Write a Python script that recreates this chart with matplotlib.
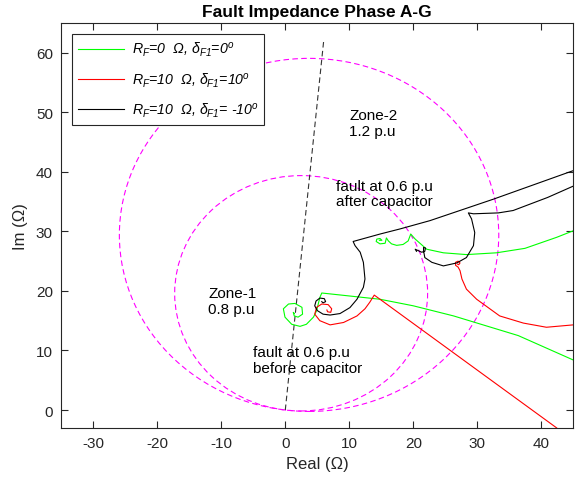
import numpy as np
import matplotlib
matplotlib.use('Agg')
import matplotlib.pyplot as plt
from matplotlib.patches import Circle
from matplotlib.lines import Line2D

plt.rcParams['font.family'] = ['Liberation Sans', 'DejaVu Sans']
plt.rcParams['mathtext.fontset'] = 'custom'
plt.rcParams['mathtext.it'] = 'Liberation Sans:italic'
plt.rcParams['mathtext.rm'] = 'Liberation Sans:italic'
plt.rcParams['mathtext.sf'] = 'Liberation Sans'
plt.rcParams['axes.unicode_minus'] = False

# ---------------- data ----------------
# relay zones (per-unit reach of line impedance)
zone_reach = [0.8, 1.2]
zone_names = ['Zone-1\n0.8 p.u', 'Zone-2\n1.2 p.u']
line_z_mag = 49.4          # ohm
line_z_ang = 82.8          # deg
char_line_x = [0.0, 6.0]
char_line_y = [0.0, 62.0]

# R_F = 0, delta = 0 : fault before capacitor
g1_x = [45.0, 36.4, 26.3, 20.0, 14.8, 5.7, 5.4, 4.9, 4.4, 3.3, 2.3, 1.0, -0.05, -0.3, 0.5, 1.5, 2.6, 2.7, 2.0, 1.4, 1.25, 1.4]
g1_y = [8.4, 12.5, 15.8, 17.5, 18.6, 19.65, 18.9, 16.7, 15.6, 14.4, 14.05, 14.4, 15.6, 17.0, 17.8, 17.9, 17.25, 16.1, 15.6, 15.8, 16.4, 16.2]
# R_F = 0, delta = 0 : fault after capacitor
g2_x = [45.0, 42.4, 37.45, 33.0, 28.3, 24.7, 22.1, 20.3, 19.6, 19.2, 18.4, 17.4, 16.6, 16.1, 15.8, 15.6, 14.8, 14.2, 14.3, 14.8, 15.1, 14.7]
g2_y = [30.1, 29.0, 27.15, 26.4, 26.1, 26.4, 27.0, 28.7, 29.55, 28.4, 27.8, 27.65, 27.9, 28.4, 28.9, 28.0, 27.9, 28.3, 28.7, 28.8, 28.5, 28.5]

# R_F = 10, delta = 10
r1_x = [42.4, 13.9, 13.2, 12.45, 11.2, 9.1, 7.0, 5.4, 4.6, 4.9, 5.7, 6.7, 7.25, 7.1, 6.6, 6.5]
r1_y = [-3.0, 19.3, 18.1, 17.0, 15.8, 14.7, 14.3, 15.0, 16.1, 17.25, 17.8, 17.7, 17.0, 16.4, 16.5, 16.8]
r2_x = [45.0, 40.8, 37.2, 33.5, 29.9, 28.3, 27.6, 27.3, 27.0, 26.6, 26.6, 27.0, 27.3, 27.1, 26.9]
r2_y = [14.3, 13.9, 14.6, 15.8, 18.6, 20.3, 22.0, 23.4, 24.0, 24.3, 24.8, 25.0, 24.7, 24.4, 24.5]

# R_F = 10, delta = -10
k1_x = [45.0, 32.5, 22.6, 17.9, 14.8, 10.6, 10.9, 11.7, 12.2, 12.45, 12.2, 11.2, 10.1, 8.55, 7.0, 5.9, 5.0, 4.6, 4.8, 5.4, 6.1, 6.3, 5.9, 5.7]
k1_y = [40.2, 35.4, 31.8, 30.4, 29.55, 28.3, 27.6, 26.5, 24.8, 22.0, 20.6, 18.6, 17.2, 16.2, 15.95, 16.1, 16.7, 17.5, 18.3, 18.8, 18.7, 18.2, 18.0, 18.2]
k2_x = [45.0, 41.0, 35.6, 33.3, 29.4, 28.6, 29.1, 29.6, 29.4, 28.3, 26.8, 24.7, 22.9, 21.8, 21.6, 21.6, 21.9, 21.8, 21.3, 20.8, 20.3, 20.5]
k2_y = [37.6, 35.7, 33.5, 33.1, 32.95, 33.1, 32.1, 29.8, 27.6, 25.6, 24.7, 24.2, 24.8, 25.6, 26.75, 27.3, 27.2, 26.65, 26.5, 26.75, 27.0, 26.65]

legend_labels = [r'$R_F$=0  $\Omega$, $\delta_{F1}$=0$^o$',
                 r'$R_F$=10  $\Omega$, $\delta_{F1}$=10$^o$',
                 r'$R_F$=10  $\Omega$, $\delta_{F1}$= -10$^o$']
annot_texts = ['fault at 0.6 p.u\nafter capacitor', 'fault at 0.6 p.u\nbefore capacitor']

# ---------------- plot ----------------
fig = plt.figure(figsize=(5.77, 4.81), dpi=100)
ax = fig.add_axes([0.1062, 0.1083, 0.8874, 0.842])

GREEN, RED, BLACK, MAG = '#00ff00', '#ff0000', '#000000', '#ff00ff'
lw = 0.8

th = np.deg2rad(line_z_ang)
for reach in zone_reach:
    d = reach * line_z_mag
    c = Circle((d / 2 * np.cos(th), d / 2 * np.sin(th)), d / 2, fill=False,
               ec=MAG, lw=0.8, ls=(0, (5, 3)))
    ax.add_patch(c)

ax.plot(char_line_x, char_line_y, color='#333333', lw=0.8, ls=(0, (5, 3)))

ax.plot(g1_x, g1_y, color=GREEN, lw=lw)
ax.plot(g2_x, g2_y, color=GREEN, lw=lw)
ax.plot(r1_x, r1_y, color=RED, lw=lw)
ax.plot(r2_x, r2_y, color=RED, lw=lw)
ax.plot(k1_x, k1_y, color=BLACK, lw=lw)
ax.plot(k2_x, k2_y, color=BLACK, lw=lw)

ax.text(-12.0, 18.3, zone_names[0], fontsize=11, va='center', ha='left', linespacing=1.1)
ax.text(10.0, 48.2, zone_names[1], fontsize=11, va='center', ha='left', linespacing=1.1)
ax.text(8.0, 36.4, annot_texts[0], fontsize=11, va='center', ha='left', linespacing=1.1)
ax.text(-5.0, 8.4, annot_texts[1], fontsize=11, va='center', ha='left', linespacing=1.1)

handles = [Line2D([], [], color=GREEN, lw=lw), Line2D([], [], color=RED, lw=lw),
           Line2D([], [], color=BLACK, lw=lw)]
leg = ax.legend(handles, legend_labels, loc='upper left',
                bbox_to_anchor=(0.0203, 0.7426, 0.3756, 0.23), mode='expand',
                borderaxespad=0, prop={'size': 10.2, 'style': 'italic'}, fancybox=False,
                framealpha=1, edgecolor='#262626', handlelength=3.3, handletextpad=0.55,
                labelspacing=0.85, borderpad=0.42)
leg.get_frame().set_linewidth(0.8)

ax.set_xlim(-35, 45)
ax.set_ylim(-3, 65)
ax.set_xticks([-30, -20, -10, 0, 10, 20, 30, 40])
ax.set_yticks([0, 10, 20, 30, 40, 50, 60])
ax.tick_params(direction='in', length=5, width=0.8, top=True, right=True,
               labelsize=11, colors='#262626', pad=6)
for s in ax.spines.values():
    s.set_linewidth(0.8)
    s.set_color('#262626')

ax.set_xlabel('Real (\u03a9)', fontsize=12, color='#262626', labelpad=4)
ax.set_ylabel('Im (\u03a9)', fontsize=12, color='#262626', labelpad=6)
ax.set_title('Fault Impedance Phase A-G', fontsize=12.5, fontweight='bold', pad=5)

fig.savefig('out.png', dpi=100)
